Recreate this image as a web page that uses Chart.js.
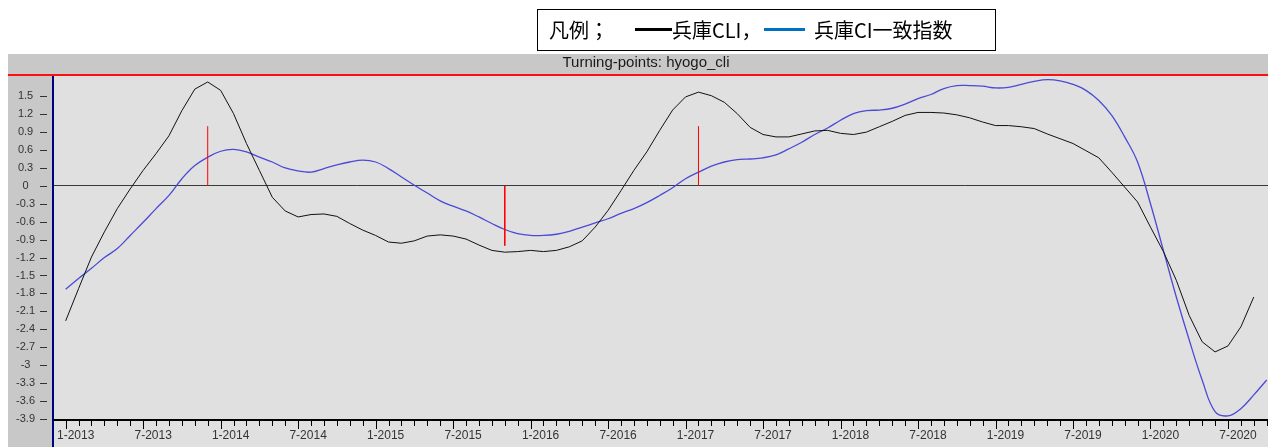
<!DOCTYPE html>
<html>
<head>
<meta charset="utf-8">
<script src="https://cdn.jsdelivr.net/npm/chart.js@4.4.1/dist/chart.umd.min.js"></script>
<style>
  html, body { margin: 0; padding: 0; background: #fff; }
  #wrap { width: 1268px; height: 447px; }
</style>
</head>
<body>
<div id="wrap"><canvas id="chart" width="1268" height="447"></canvas></div>
<script>
// ---------- data (month index 0 = 1-2013) ----------
const cliValues = [
  -2.26, -1.72, -1.19, -0.77, -0.38, -0.05, 0.26, 0.54, 0.84, 1.26,
  1.62, 1.74, 1.60, 1.21, 0.71, 0.26, -0.19, -0.42, -0.52, -0.48,
  -0.47, -0.51, -0.63, -0.74, -0.83, -0.94, -0.96, -0.92, -0.84, -0.82,
  -0.84, -0.89, -0.99, -1.08, -1.11, -1.10, -1.08, -1.10, -1.08, -1.02,
  -0.92, -0.69, -0.41, -0.08, 0.26, 0.57, 0.93, 1.27, 1.49, 1.57,
  1.51, 1.40, 1.21, 0.98, 0.86, 0.82, 0.82, 0.87, 0.92, 0.93,
  0.88, 0.86, 0.90, 0.99, 1.08, 1.18, 1.23, 1.23, 1.22, 1.19,
  1.14, 1.07, 1.01, 1.01, 0.99, 0.96, 0.87, 0.79, 0.71, 0.59,
  0.47, 0.23, -0.02, -0.27, -0.69, -1.10, -1.58, -2.17, -2.61, -2.78,
  -2.68, -2.36, -1.86
];
const ciValues = [
  -1.73, -1.55, -1.38, -1.20, -1.05, -0.83, -0.61, -0.38, -0.16, 0.12,
  0.34, 0.48, 0.58, 0.61, 0.57, 0.48, 0.40, 0.30, 0.25, 0.23,
  0.29, 0.35, 0.40, 0.43, 0.40, 0.29, 0.15, 0.01, -0.12, -0.25,
  -0.34, -0.42, -0.52, -0.63, -0.73, -0.80, -0.83, -0.83, -0.81, -0.76,
  -0.69, -0.62, -0.55, -0.46, -0.38, -0.28, -0.16, -0.03, 0.12, 0.23,
  0.33, 0.40, 0.44, 0.45, 0.47, 0.52, 0.62, 0.73, 0.86, 0.97,
  1.10, 1.21, 1.26, 1.27, 1.30, 1.37, 1.46, 1.53, 1.63, 1.68,
  1.68, 1.67, 1.64, 1.65, 1.70, 1.75, 1.78, 1.76, 1.70, 1.60,
  1.43, 1.18, 0.82, 0.40, -0.30, -1.08, -1.86, -2.58, -3.25, -3.78,
  -3.85, -3.73, -3.50, -3.25
];
// turning points: month index and direction (1 = peak, -1 = trough)
const turnMonths = [11, 34, 49];
const turnSigns = [1, -1, 1];

const yTicks = [-3.9, -3.6, -3.3, -3, -2.7, -2.4, -2.1, -1.8, -1.5, -1.2, -0.9, -0.6, -0.3, 0, 0.3, 0.6, 0.9, 1.2, 1.5];
const xTickMonths = [0, 6, 12, 18, 24, 30, 36, 42, 48, 54, 60, 66, 72, 78, 84, 90];
const xTickLabels = ['1-2013', '7-2013', '1-2014', '7-2014', '1-2015', '7-2015', '1-2016', '7-2016',
  '1-2017', '7-2017', '1-2018', '7-2018', '1-2019', '7-2019', '1-2020', '7-2020'];

const legendText = ['凡例；', '兵庫CLI，', '兵庫CI一致指数'];
const titleText = 'Turning-points: hyogo_cli';

// ---------- frame plugin ----------
const framePlugin = {
  id: 'frame',
  beforeDraw(chart) {
    const c = chart.ctx;
    const W = chart.width, H = chart.height;
    c.save();
    c.fillStyle = '#ffffff';
    c.fillRect(0, 0, W, H);
    c.fillStyle = '#c8c8c8';
    c.fillRect(8, 54, W - 8, H - 54);
    c.fillStyle = '#e0e0e0';
    c.fillRect(53, 76, W - 53, H - 76);
    c.fillStyle = '#ff1010';
    c.fillRect(8, 74, W - 8, 2);

    // title band text
    c.fillStyle = '#1a1a1a';
    c.font = '15px "Liberation Sans", Arial, sans-serif';
    c.textAlign = 'center';
    c.textBaseline = 'middle';
    c.fillText(titleText, 646, 63);

    // legend box
    c.fillStyle = '#ffffff';
    c.fillRect(537, 9, 458, 41);
    c.strokeStyle = '#000000';
    c.lineWidth = 1;
    c.strokeRect(537.5, 9.5, 458, 41);
    c.fillStyle = '#000000';
    c.font = '20px "Noto Sans CJK JP", sans-serif';
    c.textAlign = 'left';
    c.textBaseline = 'middle';
    c.fillText(legendText[0], 549, 30);
    c.fillRect(635, 28, 37, 3);
    c.fillText(legendText[1], 672, 30);
    c.fillStyle = '#0070c0';
    c.fillRect(764, 28, 41, 3);
    c.fillStyle = '#000000';
    c.fillText(legendText[2], 814, 30);
    c.restore();
  },
  afterDraw(chart) {
    const c = chart.ctx;
    const xs = chart.scales.x, ys = chart.scales.y;
    const area = chart.chartArea;
    c.save();
    // axes lines
    c.fillStyle = '#000080';
    c.fillRect(area.left - 1, 76, 2, chart.height - 76);
    c.fillStyle = '#000000';
    c.fillRect(area.left, area.bottom - 1, area.right - area.left, 2);
    // x ticks: monthly minor, half-year major
    c.strokeStyle = '#000000';
    c.lineWidth = 1;
    c.beginPath();
    for (let m = 0; m <= 93; m++) {
      const px = Math.round(xs.getPixelForValue(m)) + 0.5;
      const len = m % 6 === 0 ? 9 : 6;
      c.moveTo(px, area.bottom);
      c.lineTo(px, area.bottom + len);
    }
    c.stroke();
    // y tick dashes
    c.strokeStyle = '#333333';
    c.beginPath();
    yTicks.forEach(v => {
      const py = Math.round(ys.getPixelForValue(v)) + 0.5;
      c.moveTo(40, py);
      c.lineTo(47, py);
    });
    c.stroke();
    c.restore();
  }
};

document.addEventListener('DOMContentLoaded', () => {
  const turnSets = turnMonths.map((m, i) => ({
    label: 'turn' + i,
    data: [{ x: m, y: 0 }, { x: m, y: turnSigns[i] }],
    borderColor: '#ff0000',
    borderWidth: 1,
    pointRadius: 0
  }));

  new Chart(document.getElementById('chart').getContext('2d'), {
    type: 'line',
    data: {
      datasets: [
        ...turnSets,
        {
          label: '兵庫CLI',
          data: cliValues.map((v, i) => ({ x: i, y: v })),
          borderColor: '#111111',
          borderWidth: 1,
          pointRadius: 0,
          tension: 0
        },
        {
          label: '兵庫CI一致指数',
          data: ciValues.map((v, i) => ({ x: i, y: v })),
          borderColor: '#4a4ad6',
          borderWidth: 1.3,
          pointRadius: 0,
          tension: 0.4
        }
      ]
    },
    options: {
      responsive: false,
      animation: false,
      devicePixelRatio: 1,
      layout: { padding: { left: 8, top: 76, right: 0, bottom: 0 } },
      plugins: { legend: { display: false }, tooltip: { enabled: false } },
      scales: {
        x: {
          type: 'linear',
          min: -0.98,
          max: 93.1,
          afterFit(s) { s.height = 27; },
          afterBuildTicks(s) { s.ticks = xTickMonths.map(v => ({ value: v })); },
          grid: { display: false, drawTicks: false },
          border: { display: false },
          ticks: {
            autoSkip: false,
            maxRotation: 0,
            padding: 8,
            labelOffset: 10,
            color: '#333333',
            font: { family: '"Liberation Sans", Arial, sans-serif', size: 12 },
            callback(v) {
              const i = xTickMonths.indexOf(v);
              return i >= 0 ? xTickLabels[i] : '';
            }
          }
        },
        y: {
          min: -3.92,
          max: 1.84,
          afterFit(s) { s.width = 45; },
          afterBuildTicks(s) { s.ticks = yTicks.map(v => ({ value: v })); },
          grid: {
            drawTicks: false,
            lineWidth: 1,
            color: c => (c.tick && c.tick.value === 0 ? '#3a3a3a' : 'rgba(0,0,0,0)')
          },
          border: { display: false },
          ticks: {
            autoSkip: false,
            padding: 18,
            crossAlign: 'center',
            color: '#333333',
            font: { family: '"Liberation Sans", Arial, sans-serif', size: 11 },
            callback(v) { return String(v); }
          }
        }
      }
    },
    plugins: [framePlugin]
  });
});
</script>
</body>
</html>
